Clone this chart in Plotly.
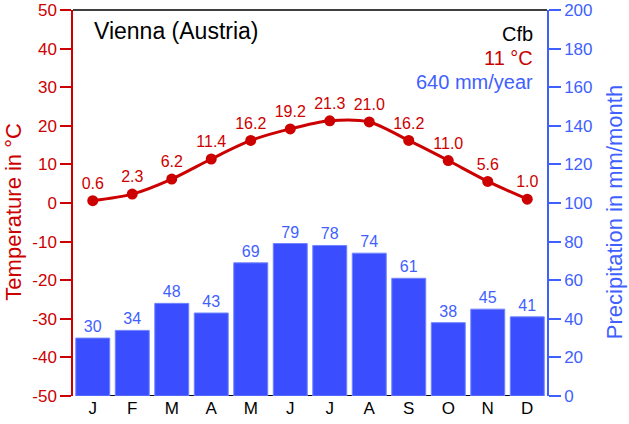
import plotly.graph_objects as go

# Vienna climate data
months = ["J", "F", "M", "A", "M", "J", "J", "A", "S", "O", "N", "D"]
temperature = [0.6, 2.3, 6.2, 11.4, 16.2, 19.2, 21.3, 21.0, 16.2, 11.0, 5.6, 1.0]
precipitation = [30, 34, 48, 43, 69, 79, 78, 74, 61, 38, 45, 41]
temp_ticks = list(range(-50, 51, 10))
prec_ticks = list(range(0, 201, 20))

red = "#CC0000"
blue = "#3F5FFF"
bar_blue = "#3A4EFF"
pos = list(range(len(months)))

fig = go.Figure()

# precipitation bars (right axis)
fig.add_trace(go.Bar(
    x=pos, y=precipitation, yaxis="y2",
    marker=dict(color=bar_blue, line=dict(color="#7085FF", width=1)),
    text=[str(p) for p in precipitation], textposition="outside",
    textfont=dict(color=blue, size=16, family="Liberation Sans"),
    cliponaxis=False, showlegend=False,
))

# temperature line (left axis)
fig.add_trace(go.Scatter(
    x=pos, y=temperature, mode="lines+markers+text",
    line=dict(color=red, width=3, shape="spline", smoothing=0.8),
    marker=dict(color=red, size=11),
    text=[f"{t:.1f}" for t in temperature], textposition="top center",
    textfont=dict(color=red, size=16, family="Liberation Sans"),
    cliponaxis=False, showlegend=False,
))

# bottom line under the bars
fig.add_trace(go.Scatter(
    x=[pos[0], pos[-1]], y=[-50, -50], mode="lines",
    line=dict(color="black", width=2), showlegend=False, hoverinfo="skip",
    cliponaxis=False,
))

fig.update_layout(
    width=629, height=424,
    margin=dict(l=73, r=82, t=10, b=28),
    plot_bgcolor="white", paper_bgcolor="white",
    font=dict(family="Liberation Sans", size=17),
    bargap=0.14,
    xaxis=dict(
        range=[-0.5, 11.5], tickvals=pos, ticktext=months, automargin=False,
        showline=False, showgrid=False, zeroline=False, ticks="",
        tickfont=dict(color="black", size=17),
    ),
    yaxis=dict(
        range=[-50, 50], tickvals=temp_ticks, ticktext=[str(t) for t in temp_ticks],
        automargin=False, ticklabeloverflow="allow",
        showline=True, linecolor=red, linewidth=1.5,
        ticks="outside", tickcolor=red, ticklen=11, tickwidth=1.5,
        tickfont=dict(color=red, size=17), showgrid=False, zeroline=False,
    ),
    yaxis2=dict(
        range=[0, 200], tickvals=prec_ticks, overlaying="y", side="right",
        automargin=False, ticklabeloverflow="allow",
        showline=True, linecolor=blue, linewidth=1.5,
        ticks="outside", tickcolor=blue, ticklen=12, tickwidth=1.5,
        tickfont=dict(color=blue, size=17), showgrid=False, zeroline=False,
    ),
    shapes=[dict(type="line", xref="paper", yref="paper", x0=0, x1=1, y0=1, y1=1,
                 line=dict(color="black", width=1.5))],
    annotations=[
        # axis titles
        dict(text="Temperature in °C", xref="paper", yref="paper", x=-0.125, y=0.477,
             textangle=-90, xanchor="center", yanchor="middle", showarrow=False,
             font=dict(color=red, size=22)),
        dict(text="Precipitation in mm/month", xref="paper", yref="paper", x=1.144, y=0.477,
             textangle=-90, xanchor="center", yanchor="middle", showarrow=False,
             font=dict(color=blue, size=22)),
        # station info
        dict(text="Vienna (Austria)", xref="paper", yref="paper", x=0.04, y=0.946,
             xanchor="left", yanchor="middle", showarrow=False,
             font=dict(color="black", size=23)),
        dict(text="Cfb", xref="paper", yref="paper", x=0.975, y=0.938,
             xanchor="right", yanchor="middle", showarrow=False,
             font=dict(color="black", size=20)),
        dict(text="11 °C", xref="paper", yref="paper", x=0.975, y=0.876,
             xanchor="right", yanchor="middle", showarrow=False,
             font=dict(color=red, size=20)),
        dict(text="640 mm/year", xref="paper", yref="paper", x=0.975, y=0.813,
             xanchor="right", yanchor="middle", showarrow=False,
             font=dict(color=blue, size=20)),
    ],
)

# drop the default 8px page margin so the figure sits at the window corner
fig.write_html("out.html", config={"displayModeBar": False},
               post_script="document.body.style.margin = '0';")
